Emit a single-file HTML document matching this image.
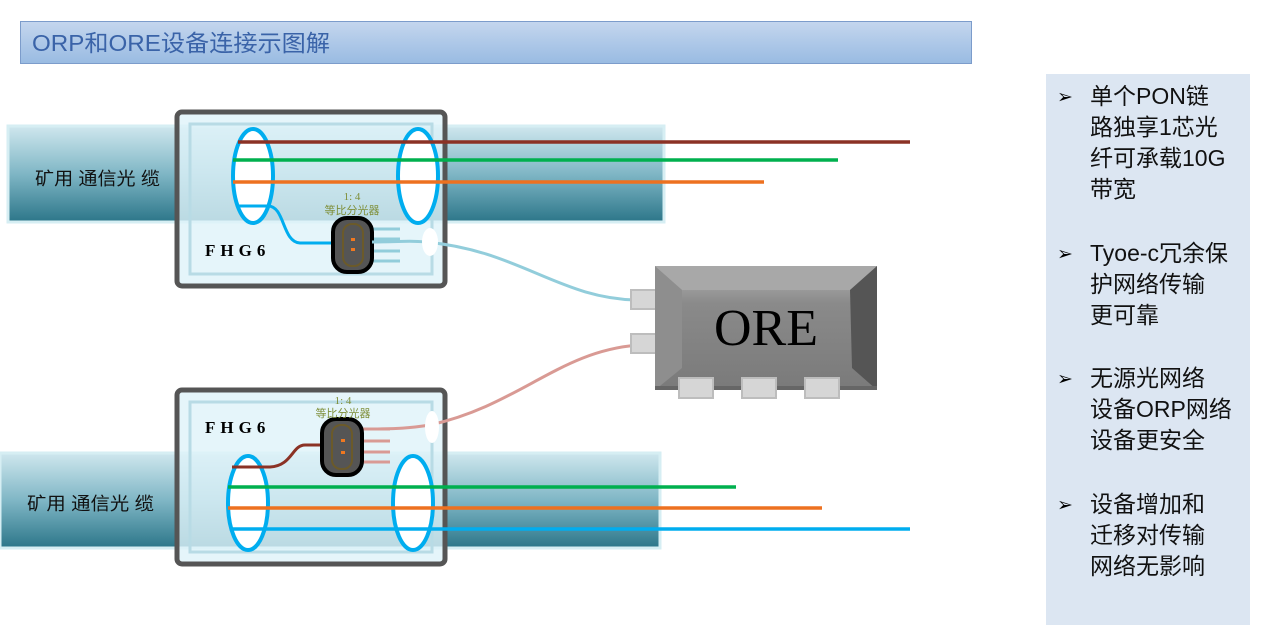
<!DOCTYPE html>
<html><head><meta charset="utf-8"><style>
body{margin:0;width:1263px;height:635px;background:#fff;overflow:hidden}
svg{display:block}
.cj{font-family:"Liberation Sans","Noto Sans CJK SC",sans-serif}
</style></head><body>
<svg width="1263" height="635" xmlns="http://www.w3.org/2000/svg">
<defs>
<linearGradient id="tb" x1="0" y1="0" x2="0" y2="1"><stop offset="0" stop-color="#c4d6ee"/><stop offset="1" stop-color="#99bbe2"/></linearGradient>
<linearGradient id="cab" x1="0" y1="0" x2="0" y2="1"><stop offset="0" stop-color="#cfe7ee"/><stop offset="0.5" stop-color="#7fb6c5"/><stop offset="1" stop-color="#2c7689"/></linearGradient>
<linearGradient id="ore" x1="0" y1="0" x2="0" y2="1"><stop offset="0" stop-color="#b5b5b5"/><stop offset="0.3" stop-color="#8a8a8a"/><stop offset="1" stop-color="#7a7a7a"/></linearGradient>
</defs>
<rect x="20.5" y="21.5" width="951" height="42" fill="url(#tb)" stroke="#7c9ccb"/>
<text x="32" y="51" class="cj" font-size="23" fill="#3a63a8" textLength="298" lengthAdjust="spacingAndGlyphs">ORP和ORE设备连接示图解</text>

<rect x="1046" y="74" width="204" height="551" fill="#dce6f2"/>
<g class="cj" font-size="23" fill="#111">
<text x="1057" y="103" font-size="19" fill="#000">➢</text>
<text x="1090" y="104">单个PON链</text><text x="1090" y="135">路独享1芯光</text><text x="1090" y="166">纤可承载10G</text><text x="1090" y="197">带宽</text>
<text x="1057" y="260" font-size="19" fill="#000">➢</text>
<text x="1090" y="261">Tyoe-c冗余保</text><text x="1090" y="292">护网络传输</text><text x="1090" y="323">更可靠</text>
<text x="1057" y="385" font-size="19" fill="#000">➢</text>
<text x="1090" y="386">无源光网络</text><text x="1090" y="417">设备ORP网络</text><text x="1090" y="448">设备更安全</text>
<text x="1057" y="511" font-size="19" fill="#000">➢</text>
<text x="1090" y="512">设备增加和</text><text x="1090" y="543">迁移对传输</text><text x="1090" y="574">网络无影响</text>
</g>

<!-- top cable -->
<rect x="8" y="126" width="656" height="96" fill="url(#cab)" stroke="#d6eef3" stroke-width="3"/>
<text x="35" y="185" class="cj" font-size="18" fill="#111" textLength="125" lengthAdjust="spacingAndGlyphs">矿用 通信光 缆</text>
<rect x="177" y="112" width="268" height="174" rx="5" fill="#dff3f9" fill-opacity="0.8" stroke="#555" stroke-width="5"/>
<rect x="190" y="124" width="242" height="150" fill="none" stroke="#b8dbe5" stroke-width="3"/>
<ellipse cx="253" cy="176" rx="20" ry="47" fill="#fff" stroke="#00adef" stroke-width="4"/>
<ellipse cx="418" cy="176" rx="20" ry="47" fill="#fff" stroke="#00adef" stroke-width="4"/>
<line x1="238" y1="142" x2="910" y2="142" stroke="#8b3225" stroke-width="3.5"/>
<line x1="233" y1="160" x2="838" y2="160" stroke="#00b04f" stroke-width="3.5"/>
<line x1="233" y1="182" x2="764" y2="182" stroke="#ed7120" stroke-width="3.5"/>
<path d="M238 206 L268 206 C285 206 282 242 300 243 L336 243" fill="none" stroke="#00adef" stroke-width="3"/>
<g stroke="#92cddb" stroke-width="3"><line x1="372" y1="229" x2="400" y2="229"/><line x1="372" y1="239" x2="400" y2="239"/><line x1="372" y1="251" x2="400" y2="251"/><line x1="372" y1="261" x2="400" y2="261"/></g>
<rect x="333" y="218" width="39" height="54" rx="14" fill="#555" stroke="#000" stroke-width="4"/>
<rect x="343" y="224" width="20" height="42" rx="9" fill="none" stroke="#6b5a2a" stroke-width="2"/>
<rect x="351" y="238" width="4" height="3" fill="#f07820"/><rect x="351" y="248" width="4" height="3" fill="#f07820"/>
<text x="352" y="200" text-anchor="middle" font-family="Liberation Serif,serif" font-size="11" fill="#7f8f3a">1: 4</text>
<text x="352" y="214" text-anchor="middle" class="cj" font-size="11" fill="#7f8f3a">等比分光器</text>
<text x="205" y="256" font-family="Liberation Serif,serif" font-weight="bold" font-size="17" letter-spacing="5" fill="#000">FHG6</text>
<path d="M372 242 C400 242 410 240 425 242 C520 250 560 300 640 300" fill="none" stroke="#92cddb" stroke-width="3"/>
<ellipse cx="430" cy="242" rx="8" ry="14" fill="#fff"/>

<!-- bottom cable -->
<rect x="0" y="453" width="660" height="95" fill="url(#cab)" stroke="#d6eef3" stroke-width="3"/>
<text x="27" y="510" class="cj" font-size="18" fill="#111" textLength="127" lengthAdjust="spacingAndGlyphs">矿用 通信光 缆</text>
<rect x="177" y="390" width="268" height="174" rx="5" fill="#dff3f9" fill-opacity="0.8" stroke="#555" stroke-width="5"/>
<rect x="190" y="402" width="242" height="150" fill="none" stroke="#b8dbe5" stroke-width="3"/>
<ellipse cx="248" cy="503" rx="20" ry="47" fill="#fff" stroke="#00adef" stroke-width="4"/>
<ellipse cx="413" cy="503" rx="20" ry="47" fill="#fff" stroke="#00adef" stroke-width="4"/>
<line x1="228" y1="487" x2="736" y2="487" stroke="#00b04f" stroke-width="3.5"/>
<line x1="228" y1="508" x2="822" y2="508" stroke="#ed7120" stroke-width="3.5"/>
<line x1="233" y1="529" x2="910" y2="529" stroke="#00adef" stroke-width="3.5"/>
<path d="M232 467 L270 467 C292 466 292 445 305 445 L323 445" fill="none" stroke="#8b3225" stroke-width="3"/>
<g stroke="#d99a94" stroke-width="3"><line x1="362" y1="429" x2="390" y2="429"/><line x1="362" y1="441" x2="390" y2="441"/><line x1="362" y1="452" x2="390" y2="452"/><line x1="362" y1="462" x2="390" y2="462"/></g>
<path d="M362 429 C400 429 410 428 430 425 C520 405 560 350 640 345" fill="none" stroke="#d99a94" stroke-width="3"/>
<rect x="322" y="419" width="40" height="56" rx="14" fill="#555" stroke="#000" stroke-width="4"/>
<rect x="332" y="425" width="20" height="44" rx="9" fill="none" stroke="#6b5a2a" stroke-width="2"/>
<rect x="341" y="439" width="4" height="3" fill="#f07820"/><rect x="341" y="451" width="4" height="3" fill="#f07820"/>
<text x="343" y="404" text-anchor="middle" font-family="Liberation Serif,serif" font-size="11" fill="#7f8f3a">1: 4</text>
<text x="343" y="417" text-anchor="middle" class="cj" font-size="11" fill="#7f8f3a">等比分光器</text>
<text x="205" y="433" font-family="Liberation Serif,serif" font-weight="bold" font-size="17" letter-spacing="5" fill="#000">FHG6</text>
<ellipse cx="432" cy="427" rx="7" ry="16" fill="#fff"/>

<!-- ORE -->
<rect x="631" y="290" width="26" height="19" fill="#d6d6d6" stroke="#bdbdbd" stroke-width="2"/>
<rect x="631" y="334" width="26" height="19" fill="#d6d6d6" stroke="#bdbdbd" stroke-width="2"/>
<rect x="655" y="266" width="222" height="124" fill="url(#ore)"/>
<polygon points="655,266 877,266 850,290 682,290" fill="#a8a8a8"/>
<polygon points="877,266 877,390 852,368 850,290" fill="#555"/>
<polygon points="655,266 682,290 682,368 655,390" fill="#8e8e8e"/>
<rect x="655" y="386" width="222" height="4" fill="#666"/>
<text x="766" y="345" text-anchor="middle" font-family="Liberation Serif,serif" font-size="52" fill="#000">ORE</text>
<g fill="#d6d6d6" stroke="#bdbdbd" stroke-width="2">
<rect x="679" y="378" width="34" height="20"/><rect x="742" y="378" width="34" height="20"/><rect x="805" y="378" width="34" height="20"/></g>
</svg>
</body></html>
